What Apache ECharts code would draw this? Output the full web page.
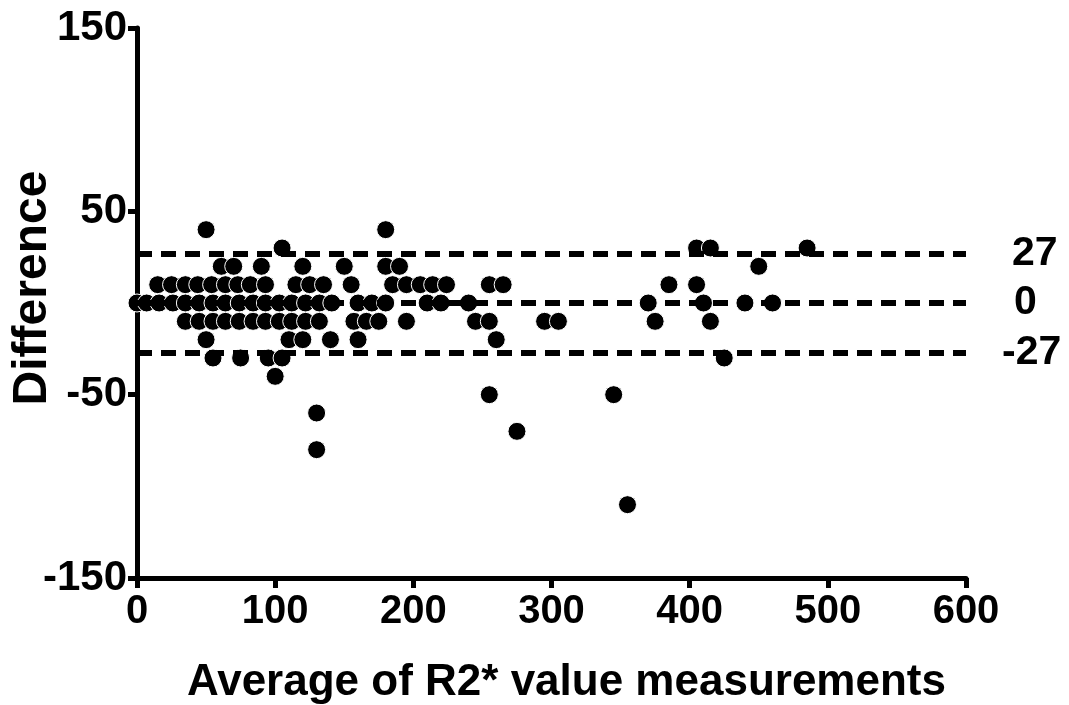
<!DOCTYPE html>
<html>
<head>
<meta charset="utf-8">
<title>Bland-Altman: R2* measurements</title>
<script src="https://cdn.jsdelivr.net/npm/echarts@6/dist/echarts.min.js"></script>
<style>
  html, body { margin: 0; padding: 0; background: #fff; }
  #chart { width: 1069px; height: 705px; }
</style>
</head>
<body>
<div id="chart"></div>
<script>
// Average of the two R2* measurements, grouped by their difference
const avgAtDiff40 = [50, 180];
const avgAtDiff30 = [105, 405, 415, 485];
const avgAtDiff20 = [61, 70, 90, 120, 150, 180, 190, 450];
const avgAtDiff10 = [15, 25, 35, 44, 54, 64, 73, 82, 93, 115, 125, 135, 155, 185, 195, 205, 214, 224, 255, 265, 385, 405];
const avgAtDiff0 = [0, 7, 16, 26, 35, 45, 55, 64, 74, 84, 93, 103, 112, 122, 132, 141, 160, 170, 180, 210, 220, 240, 370, 410, 440, 460];
const avgAtDiffM10 = [35, 45, 55, 64, 74, 84, 93, 103, 112, 122, 132, 157, 166, 175, 195, 245, 255, 295, 305, 375, 415];
const avgAtDiffM20 = [50, 110, 120, 140, 160, 260];
const avgAtDiffM30 = [55, 75, 95, 105, 425];
const avgAtDiffM40 = [100];

// Larger disagreements
const outlierAvg = [255, 345, 130, 275, 130, 355];
const outlierDiff = [-50, -50, -60, -70, -80, -110];

// Bias and limits of agreement
const limitValues = [27, 0, -27];

const xTicks = { min: 0, max: 600, step: 100 };
const yTicks = { min: -150, max: 150, step: 100 };

const rows = [
  [40, avgAtDiff40], [30, avgAtDiff30], [20, avgAtDiff20], [10, avgAtDiff10],
  [0, avgAtDiff0], [-10, avgAtDiffM10], [-20, avgAtDiffM20], [-30, avgAtDiffM30],
  [-40, avgAtDiffM40]
];
const points = [];
rows.forEach(([d, xs]) => xs.forEach(x => points.push([x, d])));
outlierAvg.forEach((x, i) => points.push([x, outlierDiff[i]]));

const FONT = "'Liberation Sans', Arial, Helvetica, sans-serif";
const labelDistance = { '27': 46, '0': 48, '-27': 36 };

const chart = echarts.init(document.getElementById('chart'), null, { renderer: 'canvas' });
chart.setOption({
  animation: false,
  backgroundColor: '#ffffff',
  grid: { left: 137, right: 103, top: 28, bottom: 127, containLabel: false, outerBoundsMode: 'none' },
  xAxis: {
    type: 'value',
    min: xTicks.min, max: xTicks.max, interval: xTicks.step,
    name: 'Average of R2* value measurements',
    nameLocation: 'middle',
    nameGap: 83,
    nameTextStyle: { fontFamily: FONT, fontWeight: 'bold', fontSize: 44, color: '#000', padding: [0, 0, 0, 30] },
    axisLine: { onZero: false, lineStyle: { color: '#000', width: 5 } },
    axisTick: { show: true, inside: false, length: 10, lineStyle: { color: '#000', width: 5 } },
    axisLabel: { margin: 14, fontFamily: FONT, fontWeight: 'bold', fontSize: 40, color: '#000' },
    splitLine: { show: false }
  },
  yAxis: {
    type: 'value',
    min: yTicks.min, max: yTicks.max, interval: yTicks.step,
    name: 'Difference',
    nameLocation: 'middle',
    nameGap: 80,
    nameMoveOverlap: false,
    nameTextStyle: { fontFamily: FONT, fontWeight: 'bold', fontSize: 48, color: '#000', padding: [0, 0, 0, 30] },
    axisLine: { onZero: false, lineStyle: { color: '#000', width: 5 } },
    axisTick: { show: true, inside: false, length: 9, lineStyle: { color: '#000', width: 5 } },
    axisLabel: { margin: 10, fontFamily: FONT, fontWeight: 'bold', fontSize: 42, color: '#000' },
    splitLine: { show: false }
  },
  series: [
    {
      type: 'scatter',
      data: points,
      clip: false,
      symbol: 'circle',
      symbolSize: 18,
      itemStyle: { color: '#000', opacity: 1, borderColor: '#fff', borderWidth: 1 },
      z: 3
    },
    {
      type: 'line',
      data: [],
      z: 4,
      markLine: {
        silent: true,
        symbol: 'none',
        lineStyle: { color: '#000', width: 6, type: [15, 9], opacity: 1 },
        data: limitValues.map(v => ({
          yAxis: v,
          label: {
            show: true,
            position: 'end',
            distance: labelDistance[String(v)],
            formatter: String(v),
            fontFamily: FONT, fontWeight: 'bold', fontSize: 41, color: '#000'
          }
        }))
      }
    }
  ]
});
</script>
</body>
</html>
